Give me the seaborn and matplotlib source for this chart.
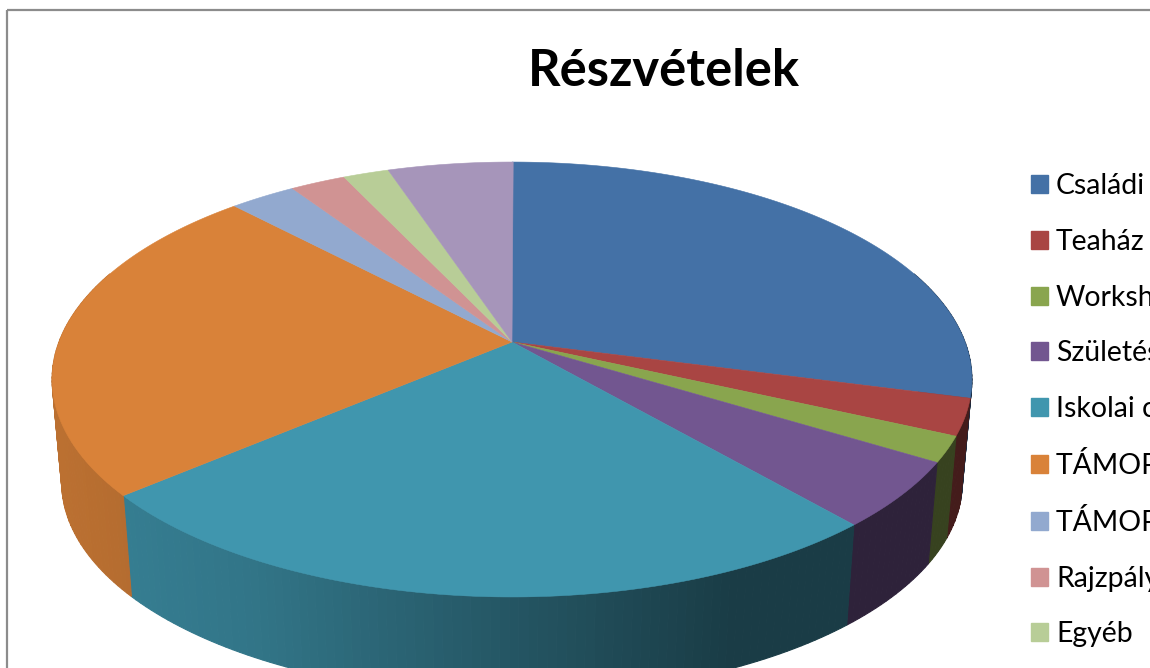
#!/usr/bin/env python3

import numpy as np
import matplotlib
matplotlib.use("Agg")
import matplotlib.pyplot as plt
import matplotlib.patches as mpatches
import seaborn as sns

# values, share of the whole pie (%)
categories = ["Családi", "Teaház", "Workshop", "Születésnapi", "Iskolai csoport",
              "TÁMOP 1", "TÁMOP 2", "Rajzpályázat", "Egyéb"]
values = [29.1, 2.7, 1.9, 4.9, 25.2, 24.1, 2.75, 2.3, 1.9, 5.2]
colors = ["#4471a6", "#a94543", "#89a54e", "#725690", "#4096ae",
          "#d98239", "#92a9cf", "#d09393", "#b8cd97", "#a695ba"]
title = "Részvételek"

sns.set_theme(style="white")
plt.rcParams["font.family"] = ["Lato", "DejaVu Sans"]
palette = sns.color_palette(colors)

# pie geometry in picture pixels
cx, cy = 512, 342
a, b, k = 453.0, 211.0, 0.1724
depth, shrink = 104.0, 0.979


def rim(theta):
    # theta clockwise from the back of the pie, perspective on the unit circle
    u, v = np.sin(theta), np.cos(theta)
    w = 1 + k * v
    return cx + a * u / w, cy - b * v / w


def shade(x):
    return np.interp(x, [60, 250, 512, 735, 850], [0.86, 0.78, 0.57, 0.40, 0.40])


fig, ax = plt.subplots(figsize=(11.5, 6.68), dpi=100)
fig.subplots_adjust(0, 0, 1, 1)
ax.set_xlim(0, 1150)
ax.set_ylim(668, 0)
ax.axis("off")

ax.add_patch(mpatches.Rectangle((7, 10), 2000, 2000, fill=False, ec="#8c8c8c", lw=1.6))

edges = np.radians(np.cumsum([0] + values) * 3.6)

# side wall first, one thin strip after the other
for i in range(len(values)):
    start, end = max(edges[i], np.radians(70)), min(edges[i + 1], np.radians(290))
    if end <= start:
        continue
    n = max(2, int(np.degrees(end - start)))
    steps = np.linspace(start, end, n + 1)
    for t0, t1 in zip(steps[:-1], steps[1:]):
        ts = np.linspace(t0, t1, 3)
        x, y = rim(ts)
        xb = cx + shrink * (x - cx)
        yb = cy + depth + shrink * (y - cy)
        col = np.array(palette[i]) * shade(x.mean())
        ax.fill(np.r_[x, xb[::-1]], np.r_[y, yb[::-1]], color=col, lw=0.8)

# top face
for i in range(len(values)):
    ts = np.linspace(edges[i], edges[i + 1], 120)
    x, y = rim(ts)
    ax.fill(np.r_[cx, x], np.r_[cy, y], color=palette[i], lw=0.4)

ax.text(664, 71, title, ha="center", va="center", fontsize=36.5, fontweight="bold", color="black")

# tenth slice's legend row lies below the picture
handles = [mpatches.Patch(color=palette[i], label=categories[i]) for i in range(len(categories))]
ax.legend(handles=handles, loc="upper left", bbox_to_anchor=(1031 / 1150, 1 - 173 / 668), frameon=False,
          fontsize=20.4, handlelength=0.6, handleheight=0.6, handletextpad=0.28,
          labelspacing=1.052, borderpad=0, borderaxespad=0, labelcolor="black")

fig.savefig("out.png", dpi=100)
